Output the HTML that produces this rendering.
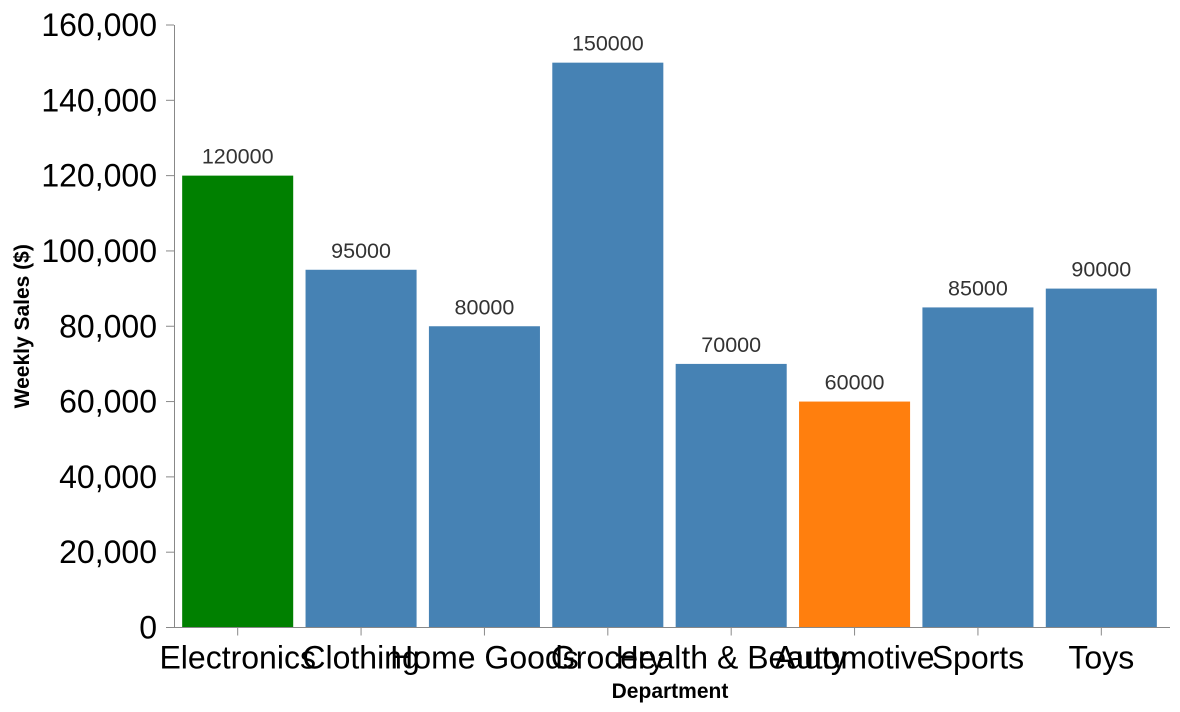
<!DOCTYPE html>
<html><head><meta charset="utf-8"><style>
html,body{margin:0;padding:0;background:#fff;}
svg{display:block;font-family:"Liberation Sans",Arial,sans-serif;}
</style></head><body>
<svg id="chart" width="1180" height="712"></svg>
<script>
const categories = ["Electronics","Clothing","Home Goods","Grocery","Health & Beauty","Automotive","Sports","Toys"];
const sales = [120000,95000,80000,150000,70000,60000,85000,90000];
const barColors = ["#008000","#4682b4","#4682b4","#4682b4","#4682b4","#ff7f0e","#4682b4","#4682b4"];
const yTicks = [0,20000,40000,60000,80000,100000,120000,140000,160000];

const NS="http://www.w3.org/2000/svg";
const svg=document.getElementById('chart');
const axisX=174, x0=176, x1=1163, y0=627.5, y1=25, yMax=160000;
const step=(x1-x0)/categories.length, pad=0.1;
const y=v=>y0-(v/yMax)*(y0-y1);
const xb=i=>x0+step*i+step*pad/2;
const bw=step*(1-pad);
function mk(tag,attrs,txt){const e=document.createElementNS(NS,tag);for(const k in attrs)e.setAttribute(k,attrs[k]);if(txt!=null)e.textContent=txt;svg.appendChild(e);return e;}

yTicks.forEach(t=>{
  const tk=mk('line',{x1:axisX-8,x2:axisX,y1:y(t),y2:y(t),stroke:'#888'});
  
  
  const lb=mk('text',{x:axisX-17,y:y(t)+11,'text-anchor':'end','font-size':32,fill:'#000'},t.toLocaleString('en-US'));
  
  
});
const ya=mk('line',{x1:axisX+0.5,x2:axisX+0.5,y1:y1,y2:y0,stroke:'#888'});


const yt=mk('text',{x:0,y:0,transform:'translate(29,'+((y0+y1)/2)+') rotate(-90)','text-anchor':'middle','font-size':21,'font-weight':'bold'},'Weekly Sales ($)');



categories.forEach((c,i)=>{
  const r=mk('rect',{x:xb(i),y:y(sales[i]),width:bw,height:y0-y(sales[i]),fill:barColors[i]});
  
  
  const v=mk('text',{x:xb(i)+bw/2,y:y(sales[i])-12,'text-anchor':'middle','font-size':21.5,fill:'#333'},String(sales[i]));
  
  
  const cx=x0+step*(i+0.5);
  const tk=mk('line',{x1:cx,x2:cx,y1:y0,y2:y0+8,stroke:'#888'});
  
  
  const lb=mk('text',{x:cx,y:y0+41,'text-anchor':'middle','font-size':32,fill:'#000'},c);
  
  
});
const xa=mk('line',{x1:axisX,x2:1170,y1:y0,y2:y0,stroke:'#888'});


const xt=mk('text',{x:670,y:698,'text-anchor':'middle','font-size':21,'font-weight':'bold'},'Department');


</script>
</body></html>
